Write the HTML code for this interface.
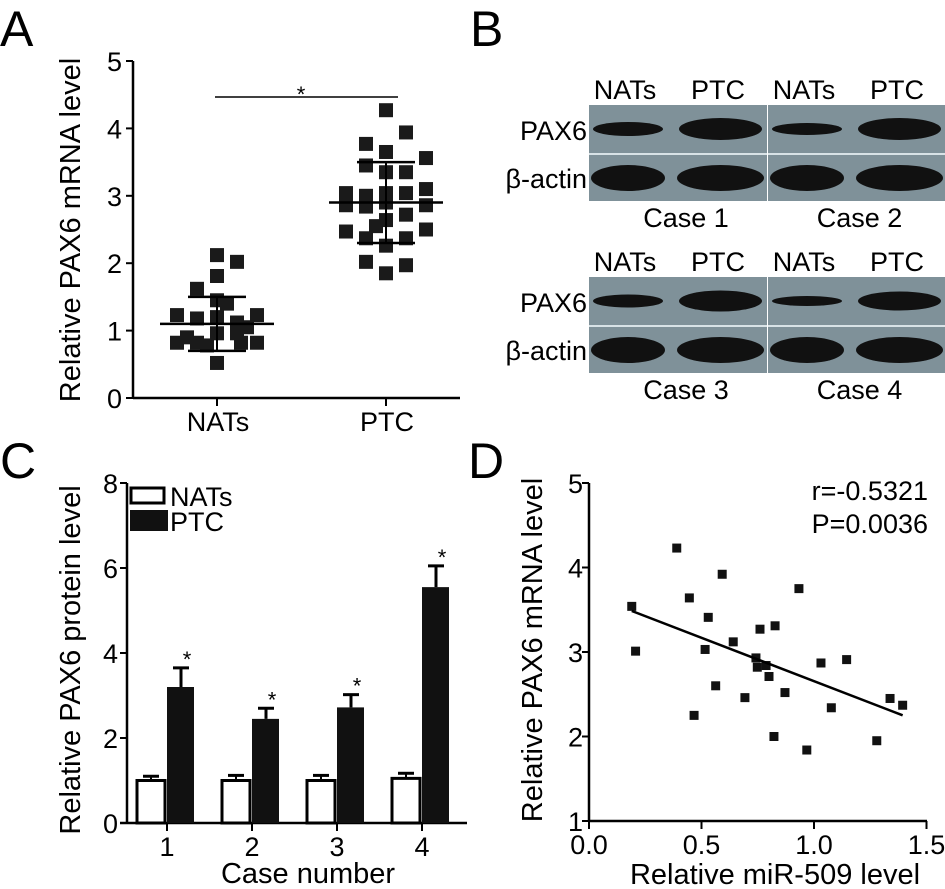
<!DOCTYPE html>
<html><head><meta charset="utf-8"><style>
html,body{margin:0;padding:0;background:#fff}
svg{display:block;font-family:"Liberation Sans",Arial,sans-serif}
</style></head><body>
<svg id="fig" width="945" height="889" viewBox="0 0 945 889">
<g id="pa">
 <text x="0" y="46" font-size="50">A</text>
 <text transform="translate(80,230) rotate(-90)" text-anchor="middle" font-size="29">Relative PAX6 mRNA level</text>
</g>
<g id="pb">
 <text x="470" y="46" font-size="50">B</text>
</g>
<g id="pc">
 <text x="0" y="478" font-size="50">C</text>
 <text transform="translate(80,660) rotate(-90)" text-anchor="middle" font-size="29">Relative PAX6 protein level</text>
 <text x="308" y="883" text-anchor="middle" font-size="29">Case number</text>
</g>
<g id="pd">
 <text x="468" y="478" font-size="50">D</text>
 <text transform="translate(542,650) rotate(-90)" text-anchor="middle" font-size="29">Relative PAX6 mRNA level</text>
 <text x="775" y="884" text-anchor="middle" font-size="29">Relative miR-509 level</text>
 <text x="928" y="500" text-anchor="end" font-size="27">r=-0.5321</text>
 <text x="928" y="533" text-anchor="end" font-size="27">P=0.0036</text>
</g>
</svg>
<script>
// Panel A data
const aCategories = ["NATs", "PTC"];
const aNatsValues = [2.12,2.02,1.81,1.62,1.45,1.40,1.23,1.18,1.20,1.12,1.23,0.82,0.90,0.82,0.96,0.96,0.82,0.82,0.52,0.78,1.05];
const aNatsJitter = [0,1,0,-1,0,0.5,-2,-1,0,1,2,-2,-1.5,-1,0,1,1.2,2,0,-0.5,1.5];
const aPtcValues = [4.27,3.94,3.77,3.65,3.56,3.45,3.35,3.35,3.04,3.00,3.04,3.04,3.10,2.86,2.84,2.90,2.72,2.86,2.64,2.55,2.47,2.50,2.37,2.26,2.37,2.02,1.97,1.85];
const aPtcJitter = [0,1,-1,0,2,-1,0,1,-2,-1,0,1,2,-2,-1,0,1,2,0,-0.5,-2,2,-1,0,1,-1,1,0];
const aMeans = [1.1, 2.9];
const aSD = [0.4, 0.6];
const aTicks = [0,1,2,3,4,5];
// Panel B
const bCases = ["Case 1","Case 2","Case 3","Case 4"];
const bLanes = ["NATs","PTC"];
const bPax6Band = [[0.6,1.0],[0.5,1.0],[0.55,0.95],[0.4,0.85]];
// Panel C data
const cCategories = ["1","2","3","4"];
const cNats = [1.0,1.0,1.0,1.05];
const cNatsErr = [0.1,0.12,0.12,0.12];
const cPtc = [3.2,2.45,2.72,5.55];
const cPtcErr = [0.45,0.25,0.3,0.5];
const cTicks = [0,2,4,6,8];
// Panel D data
const dX = [0.19,0.207,0.39,0.446,0.592,0.53,0.467,0.516,0.563,0.641,0.693,0.742,0.748,0.76,0.787,0.80,0.827,0.822,0.871,0.933,0.968,1.031,1.077,1.145,1.279,1.338,1.394];
const dY = [3.54,3.01,4.23,3.64,3.92,3.41,2.25,3.03,2.60,3.12,2.46,2.93,2.82,3.27,2.84,2.71,3.31,2.00,2.52,3.75,1.84,2.87,2.34,2.91,1.95,2.45,2.37];
const dXTicks = [0.0,0.5,1.0,1.5];
const dYTicks = [1,2,3,4,5];

const NS="http://www.w3.org/2000/svg";
function mk(parent,tag,attrs,text){const e=document.createElementNS(NS,tag);for(const k in attrs)e.setAttribute(k,attrs[k]);if(text!==undefined)e.textContent=text;parent.appendChild(e);return e;}

// ---------- Panel A ----------
(function(){
 const g=document.getElementById('pa');
 const y=v=>398-v*67.4, cx=i=>[217,386][i], jx=j=>j*20;
 let e=mk(g,'line',{x1:133,y1:61,x2:133,y2:398,stroke:'#000','stroke-width':2.5});
 
 
 e=mk(g,'line',{x1:133,y1:398,x2:460,y2:398,stroke:'#000','stroke-width':2.5});
 
 
 aTicks.forEach(t=>{
  mk(g,'line',{x1:126,y1:y(t),x2:133,y2:y(t),stroke:'#000','stroke-width':2});
  e=mk(g,'text',{x:122,y:y(t)+10,'text-anchor':'end','font-size':27},String(t));
  
  
 });
 aCategories.forEach((c,i)=>{
  mk(g,'line',{x1:cx(i),y1:398,x2:cx(i),y2:406,stroke:'#000','stroke-width':2});
  e=mk(g,'text',{x:cx(i)+1,y:431,'text-anchor':'middle','font-size':27},c);
  
  
 });
 [[aNatsValues,aNatsJitter],[aPtcValues,aPtcJitter]].forEach((s,i)=>{
  s[0].forEach((v,k)=>{
   const p=mk(g,'rect',{x:cx(i)+jx(s[1][k])-7,y:y(v)-7,width:14,height:14,fill:'#1a1a1a'});
   
   
  });
 });
 aMeans.forEach((m,i)=>{
  e=mk(g,'line',{x1:cx(i)-57,y1:y(m),x2:cx(i)+57,y2:y(m),stroke:'#000','stroke-width':2.5});
  
  
  [m-aSD[i],m+aSD[i]].forEach(v=>{
   const s=mk(g,'line',{x1:cx(i)-29,y1:y(v),x2:cx(i)+29,y2:y(v),stroke:'#000','stroke-width':2.5});
   
   
  });
  mk(g,'line',{x1:cx(i),y1:y(m-aSD[i]),x2:cx(i),y2:y(m+aSD[i]),stroke:'#000','stroke-width':2});
 });
 e=mk(g,'line',{x1:215,y1:97,x2:398,y2:97,stroke:'#000','stroke-width':1.5});
 
 
 e=mk(g,'text',{x:301,y:102,'text-anchor':'middle','font-size':22},'*');
 
 
})();

// ---------- Panel B ----------
(function(){
 const g=document.getElementById('pb');
 const blocks=[{y:105,ci:0},{y:277,ci:2}];
 blocks.forEach(b=>{
  const top=b.y;
  [0,1].forEach(h=>{
   const c=b.ci+h, x0=h?768:589, w=h?177:178;
   const r=mk(g,'rect',{x:x0,y:top,width:w,height:96,fill:'#7f9199'});
   
   
   mk(g,'line',{x1:x0,y1:top+49,x2:x0+w,y2:top+49,stroke:'#d8e2e6','stroke-width':2});
   bLanes.forEach((ln,li)=>{
    const lx=x0+(li?90:4), lw=li?83:70, cxl=x0+(li?129:36);
    const t=bPax6Band[c][li];
    let band=mk(g,'ellipse',{cx:lx+lw/2,cy:top+24,rx:lw/2,ry:10*t+1,fill:'#111'});
    
    
    band=mk(g,'ellipse',{cx:lx+lw/2,cy:top+73,rx:lw/2+2,ry:13,fill:'#111'});
    
    
    const lab=mk(g,'text',{x:cxl,y:top-6,'text-anchor':'middle','font-size':27},ln);
    
    
   });
   const cl=mk(g,'text',{x:x0+w/2+(h?3:8),y:top+122,'text-anchor':'middle','font-size':27},bCases[c]);
   
   
  });
  let t=mk(g,'text',{x:587,y:top+35,'text-anchor':'end','font-size':27},'PAX6');
  
  
  t=mk(g,'text',{x:587,y:top+83,'text-anchor':'end','font-size':27},'β-actin');
  
  
 });
})();

// ---------- Panel C ----------
(function(){
 const g=document.getElementById('pc');
 const y=v=>823-v*42.5, cx=i=>167+i*85;
 let e=mk(g,'line',{x1:127,y1:483,x2:127,y2:823,stroke:'#000','stroke-width':2.5});
 
 
 e=mk(g,'line',{x1:120,y1:823,x2:467,y2:823,stroke:'#000','stroke-width':2.5});
 
 
 cTicks.forEach(t=>{
  mk(g,'line',{x1:120,y1:y(t),x2:127,y2:y(t),stroke:'#000','stroke-width':2});
  e=mk(g,'text',{x:118,y:y(t)+10,'text-anchor':'end','font-size':27},String(t));
  
  
 });
 cCategories.forEach((c,i)=>{
  mk(g,'line',{x1:cx(i),y1:823,x2:cx(i),y2:831,stroke:'#000','stroke-width':2});
  e=mk(g,'text',{x:cx(i),y:856,'text-anchor':'middle','font-size':27},c);
  
  
  mk(g,'line',{x1:cx(i)-16,y1:y(cNats[i]+cNatsErr[i]),x2:cx(i)-16,y2:y(cNats[i]),stroke:'#000','stroke-width':2});
  mk(g,'line',{x1:cx(i)-24,y1:y(cNats[i]+cNatsErr[i]),x2:cx(i)-8,y2:y(cNats[i]+cNatsErr[i]),stroke:'#000','stroke-width':3});
  e=mk(g,'rect',{x:cx(i)-30,y:y(cNats[i]),width:28,height:823-y(cNats[i]),fill:'#fff',stroke:'#000','stroke-width':3});
  
  
  mk(g,'line',{x1:cx(i)+14,y1:y(cPtc[i]+cPtcErr[i]),x2:cx(i)+14,y2:y(cPtc[i]),stroke:'#000','stroke-width':3});
  mk(g,'line',{x1:cx(i)+6,y1:y(cPtc[i]+cPtcErr[i]),x2:cx(i)+22,y2:y(cPtc[i]+cPtcErr[i]),stroke:'#000','stroke-width':3});
  e=mk(g,'rect',{x:cx(i),y:y(cPtc[i]),width:27,height:823-y(cPtc[i]),fill:'#111'});
  
  
  e=mk(g,'text',{x:cx(i)+20,y:y(cPtc[i]+cPtcErr[i])-1,'text-anchor':'middle','font-size':22},'*');
  
  
 });
 e=mk(g,'rect',{x:131,y:488,width:33,height:15,fill:'#fff',stroke:'#000','stroke-width':3});
 
 
 e=mk(g,'rect',{x:130,y:510,width:38,height:21,fill:'#111'});
 
 
 e=mk(g,'text',{x:170,y:506,'font-size':27},'NATs');
 
 
 e=mk(g,'text',{x:170,y:531,'font-size':27},'PTC');
 
 
})();

// ---------- Panel D ----------
(function(){
 const g=document.getElementById('pd');
 const x=v=>589+v*225, y=v=>821-(v-1)*84.5;
 let e=mk(g,'line',{x1:589,y1:483,x2:589,y2:821,stroke:'#000','stroke-width':2.5});
 
 
 e=mk(g,'line',{x1:589,y1:821,x2:927,y2:821,stroke:'#000','stroke-width':2.5});
 
 
 dYTicks.forEach(t=>{
  mk(g,'line',{x1:582,y1:y(t),x2:589,y2:y(t),stroke:'#000','stroke-width':2});
  e=mk(g,'text',{x:583,y:y(t)+10,'text-anchor':'end','font-size':27},String(t));
  
  
 });
 dXTicks.forEach(t=>{
  mk(g,'line',{x1:x(t),y1:821,x2:x(t),y2:829,stroke:'#000','stroke-width':2});
  e=mk(g,'text',{x:x(t),y:854,'text-anchor':'middle','font-size':27},t.toFixed(1));
  
  
 });
 dX.forEach((v,i)=>{
  const p=mk(g,'rect',{x:x(v)-4.5,y:y(dY[i])-4.5,width:9,height:9,fill:'#111'});
  
  
 });
 const n=dX.length, mx=dX.reduce((a,b)=>a+b)/n, my=dY.reduce((a,b)=>a+b)/n;
 let sxy=0,sxx=0; dX.forEach((v,i)=>{sxy+=(v-mx)*(dY[i]-my);sxx+=(v-mx)*(v-mx);});
 const b=sxy/sxx, a=my-b*mx, x0=Math.min(...dX), x1=Math.max(...dX);
 e=mk(g,'line',{x1:x(x0),y1:y(a+b*x0),x2:x(x1),y2:y(a+b*x1),stroke:'#000','stroke-width':2.5});
 
 
})();
</script>
</body></html>
